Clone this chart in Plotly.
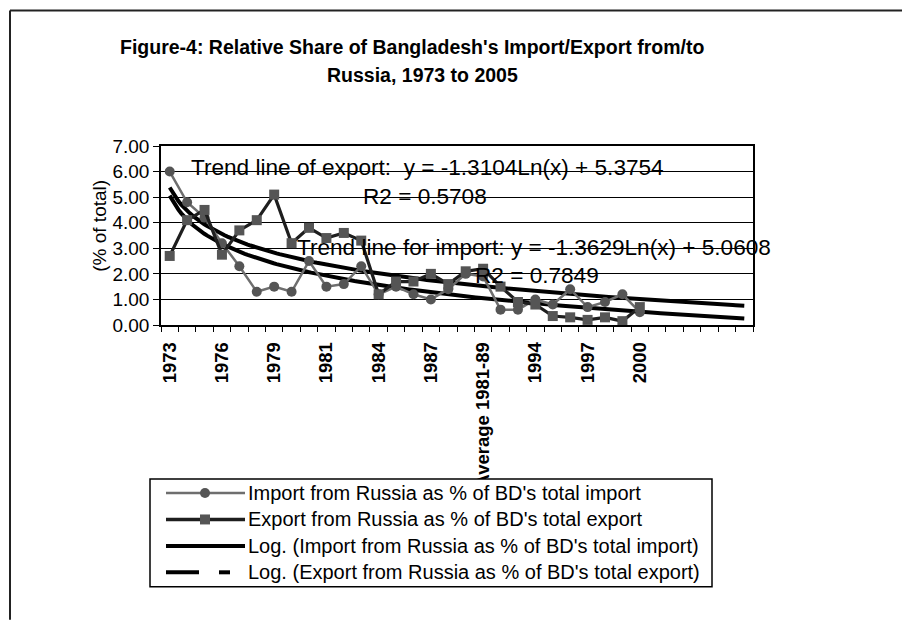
import numpy as np
import plotly.graph_objects as go

# ---- data -------------------------------------------------------------
# period index as used by the log trend lines (1 = 1973)
period = list(range(1, 29))
n_periods = 34

tick_pos = [1, 4, 7, 10, 13, 16, 19, 22, 25, 28]
tick_labels = ["1973", "1976", "1979", "1981", "1984", "1987",
               "Average 1981-89", "1994", "1997", "2000"]

import_share = [6.0, 4.8, 4.2, 3.2, 2.3, 1.3, 1.5, 1.3, 2.5, 1.5, 1.6, 2.3, 1.2, 1.5,
                1.2, 1.0, 1.4, 2.0, 1.9, 0.6, 0.6, 1.0, 0.8, 1.4, 0.7, 0.9, 1.2, 0.5]
export_share = [2.7, 4.1, 4.5, 2.75, 3.7, 4.1, 5.1, 3.2, 3.8, 3.4, 3.6, 3.3, 1.2, 1.7,
                1.7, 2.0, 1.6, 2.1, 2.2, 1.5, 0.9, 0.8, 0.35, 0.3, 0.2, 0.3, 0.15, 0.7]

# fitted log trends  y = a*ln(x) + b
exp_a, exp_b, exp_r2 = -1.3104, 5.3754, 0.5708
imp_a, imp_b, imp_r2 = -1.3629, 5.0608, 0.7849

# ---- geometry helpers (pixel -> paper) --------------------------------
W, H = 902, 621
L, R, T, B = 161, 753, 146, 325.5


def px(x):
    return (x - L) / (R - L)


def py(y):
    return (B - y) / (B - T)


FONT = "Liberation Sans, Arial, sans-serif"
IMP_COLOR = "#6e6e6e"
EXP_COLOR = "#1e1e1e"
MARK_COLOR = "#555555"

fig = go.Figure()

xs = np.linspace(1, n_periods, 200)
fig.add_trace(go.Scatter(x=xs, y=imp_a * np.log(xs) + imp_b, mode="lines",
                         line=dict(color="#000000", width=4), hoverinfo="skip"))
fig.add_trace(go.Scatter(x=xs, y=exp_a * np.log(xs) + exp_b, mode="lines",
                         line=dict(color="#000000", width=4), hoverinfo="skip"))

fig.add_trace(go.Scatter(x=period, y=import_share, mode="lines+markers",
                         line=dict(color=IMP_COLOR, width=2.5),
                         marker=dict(symbol="circle", size=10, color=MARK_COLOR)))
fig.add_trace(go.Scatter(x=period, y=export_share, mode="lines+markers",
                         line=dict(color=EXP_COLOR, width=3.2),
                         marker=dict(symbol="square", size=10, color=MARK_COLOR)))

fig.update_layout(
    width=W, height=H,
    margin=dict(l=L, r=W - R, t=T, b=H - B, pad=0),
    paper_bgcolor="white", plot_bgcolor="white",
    showlegend=False,
    font=dict(family=FONT, color="black"),
)

fig.update_xaxes(
    range=[0.5, n_periods + 0.5],
    tickmode="array", tickvals=tick_pos, ticktext=tick_labels,
    tickangle=-90, ticks="", ticklabelstandoff=8,
    tickfont=dict(size=18.5, family=FONT, weight="bold"),
    minor=dict(ticks="outside", ticklen=5, tick0=0.5, dtick=1,
               tickcolor="black", tickwidth=1, showgrid=False),
    showgrid=False, zeroline=False,
    showline=True, linecolor="black", linewidth=1.5, mirror=True,
)
fig.update_yaxes(
    range=[0, 7], dtick=1, tickformat=".2f",
    ticks="outside", ticklen=6, tickcolor="black",
    tickfont=dict(size=19, family=FONT),
    showgrid=True, gridcolor="black", gridwidth=1, zeroline=False,
    showline=True, linecolor="black", linewidth=1.5, mirror=True,
)

ann = []
# title
ann.append(dict(text="<b>Figure-4: Relative Share of Bangladesh's Import/Export from/to</b>",
                x=px(412), y=py(47), font=dict(size=19.5)))
ann.append(dict(text="<b>Russia, 1973 to 2005</b>", x=px(422), y=py(75), font=dict(size=19.5)))
# y title
ann.append(dict(text="(% of total)", x=px(100), y=py(226), textangle=-90, font=dict(size=19)))
# trend equations
ann.append(dict(text=f"Trend line of export:  y = {exp_a}Ln(x) + {exp_b}",
                x=px(427.5), y=py(168), font=dict(size=22.6)))
ann.append(dict(text=f"R2 = {exp_r2}", x=px(425), y=py(197), font=dict(size=22.6)))
ann.append(dict(text=f"Trend line for import: y = {imp_a}Ln(x) + {imp_b}",
                x=px(534), y=py(248), font=dict(size=22.6)))
ann.append(dict(text=f"R2 = {imp_r2}", x=px(537), y=py(276), font=dict(size=22.6)))

# legend box
LX0, LX1, LY0, LY1 = 150, 712, 480, 588
rows = [494, 520.5, 547, 573.5]
legend_text = ["Import from Russia as % of BD's total import",
               "Export from Russia as % of BD's total export",
               "Log. (Import from Russia as % of BD's total import)",
               "Log. (Export from Russia as % of BD's total export)"]
for yrow, txt in zip(rows, legend_text):
    ann.append(dict(text=txt, x=px(246), y=py(yrow), xanchor="left", font=dict(size=20)))

for a in ann:
    a.setdefault("xanchor", "center")
    a.update(xref="paper", yref="paper", yanchor="middle", showarrow=False)
    a["font"].setdefault("family", FONT)
    a["font"].setdefault("color", "black")
fig.update_layout(annotations=ann)

shapes = []
# outer frame
shapes.append(dict(type="line", x0=px(10), x1=px(902), y0=py(10), y1=py(10),
                   line=dict(color="#222", width=2)))
shapes.append(dict(type="line", x0=px(10), x1=px(10), y0=py(10), y1=py(621),
                   line=dict(color="#222", width=2)))
shapes.append(dict(type="rect", x0=px(LX0), x1=px(LX1), y0=py(LY0), y1=py(LY1),
                   fillcolor="white", line=dict(color="black", width=1.5), layer="above"))
s0, s1, mid = 166, 245, 205
shapes.append(dict(type="line", x0=px(s0), x1=px(s1), y0=py(rows[0]), y1=py(rows[0]),
                   line=dict(color=IMP_COLOR, width=2.5), layer="above"))
shapes.append(dict(type="circle", x0=px(mid - 5), x1=px(mid + 5),
                   y0=py(rows[0] - 5), y1=py(rows[0] + 5),
                   fillcolor=MARK_COLOR, line=dict(width=0), layer="above"))
shapes.append(dict(type="line", x0=px(s0), x1=px(s1), y0=py(rows[1]), y1=py(rows[1]),
                   line=dict(color=EXP_COLOR, width=3.5), layer="above"))
shapes.append(dict(type="rect", x0=px(mid - 5), x1=px(mid + 5),
                   y0=py(rows[1] - 5), y1=py(rows[1] + 5),
                   fillcolor=MARK_COLOR, line=dict(width=0), layer="above"))
shapes.append(dict(type="line", x0=px(s0), x1=px(s1), y0=py(rows[2]), y1=py(rows[2]),
                   line=dict(color="black", width=4), layer="above"))
shapes.append(dict(type="line", x0=px(s0), x1=px(199), y0=py(rows[3]), y1=py(rows[3]),
                   line=dict(color="black", width=4), layer="above"))
shapes.append(dict(type="line", x0=px(219), x1=px(230), y0=py(rows[3]), y1=py(rows[3]),
                   line=dict(color="black", width=4), layer="above"))
for s in shapes:
    s.update(xref="paper", yref="paper")
fig.update_layout(shapes=shapes)

fig.write_html("out.html")
